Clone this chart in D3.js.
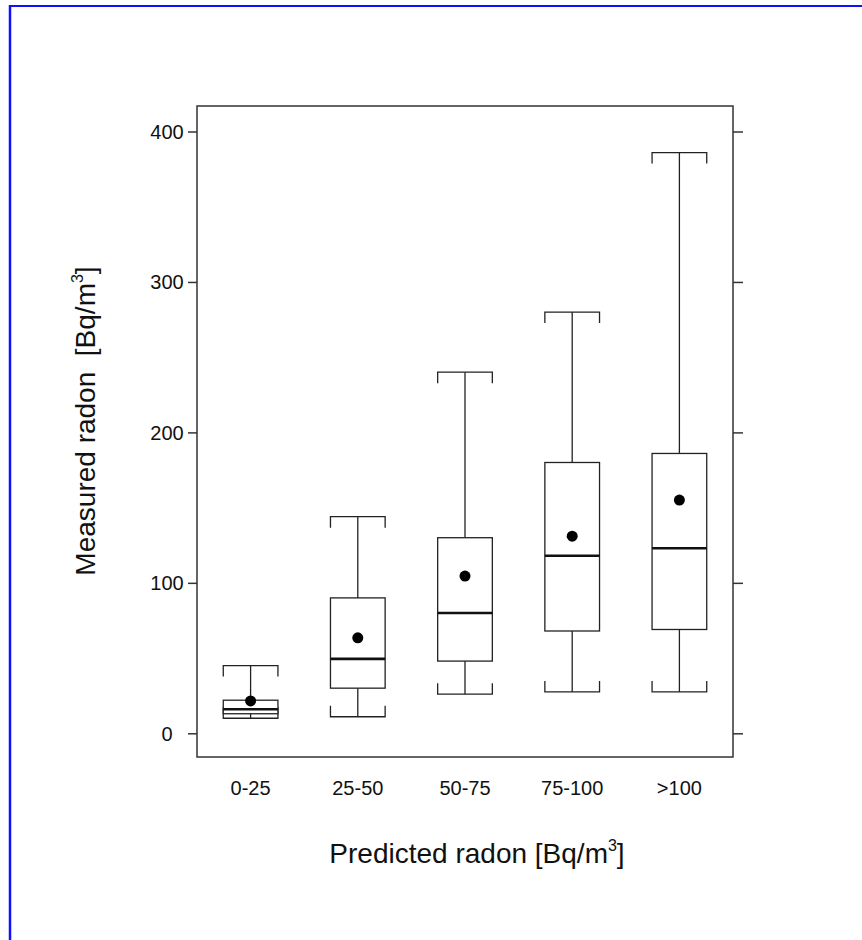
<!DOCTYPE html>
<html><head><meta charset="utf-8">
<script src="https://cdn.jsdelivr.net/npm/d3@7"></script>
<style>body{margin:0;background:#fff}svg{display:block}text{font-family:"Liberation Sans",Arial,sans-serif;fill:#111}</style>
</head><body>
<svg id="c" width="862" height="940"></svg>
<script>
const categories = ["0-25","25-50","50-75","75-100",">100"];
const whiskerLow  = [10, 11, 26, 27.5, 27.5];
const q1          = [13, 30, 48, 68, 69];
const median      = [16, 49.5, 80, 118, 123];
const q3          = [22, 90, 130, 180, 186];
const whiskerHigh = [45, 144, 240, 280, 386];
const means       = [21.5, 63.5, 104.5, 131, 155];
const yTicks      = [0, 100, 200, 300, 400];

const svg = d3.select("#c");
const L = 197, R = 733, T = 106, B = 757;
const x = d3.scaleBand().domain(categories).range([L, R]).paddingInner(0).paddingOuter(0);
const y = d3.scaleLinear().domain([0, 400]).range([733.3, 131.5]);
const bw = x.bandwidth() * 0.51;
const hook = 11;
const col = "#222";

// blue border (top & left)
svg.append("line").attr("x1",10).attr("x2",862).attr("y1",6).attr("y2",6).attr("stroke","#1010ff").attr("stroke-width",2.2);
svg.append("line").attr("x1",10).attr("x2",10).attr("y1",5).attr("y2",940).attr("stroke","#1010ff").attr("stroke-width",2.5);

// frame
svg.append("rect").attr("x",L).attr("y",T).attr("width",R-L).attr("height",B-T)
  .attr("fill","none").attr("stroke","#333").attr("stroke-width",1.5);

// axes ticks
const yl = d3.axisLeft(y).tickValues(yTicks).tickSize(9).tickFormat("");
const yr = d3.axisRight(y).tickValues(yTicks).tickSize(10).tickFormat("");
const gl = svg.append("g").attr("transform",`translate(${L},0)`).call(yl);
const gr = svg.append("g").attr("transform",`translate(${R},0)`).call(yr);
[gl,gr].forEach(g=>{g.select(".domain").remove();g.selectAll("line").attr("stroke","#333").attr("stroke-width",1.5);});

// y tick labels (centered)
svg.selectAll(".ylab").data(yTicks).join("text")
  .attr("x",167).attr("y",d=>y(d)).attr("dy","0.36em").attr("text-anchor","middle")
  .attr("font-size",20).text(d=>d);

// x labels
svg.selectAll(".xlab").data(categories).join("text")
  .attr("x",d=>x(d)+x.bandwidth()/2).attr("y",795).attr("text-anchor","middle")
  .attr("font-size",20).text(d=>d);

// titles
const xt = svg.append("text").attr("x",477).attr("y",863).attr("text-anchor","middle").attr("font-size",28);
xt.append("tspan").text("Predicted radon [Bq/m");
xt.append("tspan").attr("font-size",16).attr("dy",-12).text("3");
xt.append("tspan").attr("dy",12).text("]");
const yt = svg.append("text").attr("transform","translate(95,421) rotate(-90)").attr("text-anchor","middle")
  .attr("font-size",28).style("white-space","pre");
yt.append("tspan").text("Measured radon  [Bq/m");
yt.append("tspan").attr("font-size",16).attr("dy",-12).text("3");
yt.append("tspan").attr("dy",12).text("]");

// boxes
const data = categories.map((c,i)=>({c,lo:whiskerLow[i],q1:q1[i],md:median[i],q3:q3[i],hi:whiskerHigh[i],mn:means[i]}));
const g = svg.append("g").attr("fill","none").attr("stroke",col).attr("stroke-width",1.3);
data.forEach(d=>{
  const cx = x(d.c)+x.bandwidth()/2, x0 = cx-bw/2, x1 = cx+bw/2;
  g.append("line").attr("x1",cx).attr("x2",cx).attr("y1",y(d.q3)).attr("y2",y(d.hi));
  g.append("line").attr("x1",cx).attr("x2",cx).attr("y1",y(d.q1)).attr("y2",y(d.lo));
  g.append("path").attr("d",`M${x0},${y(d.hi)+hook}V${y(d.hi)}H${x1}V${y(d.hi)+hook}`);
  g.append("path").attr("d",`M${x0},${y(d.lo)-hook}V${y(d.lo)}H${x1}V${y(d.lo)-hook}`);
  g.append("rect").attr("x",x0).attr("y",y(d.q3)).attr("width",bw).attr("height",y(d.q1)-y(d.q3)).attr("fill","#fff");
  g.append("line").attr("x1",x0).attr("x2",x1).attr("y1",y(d.md)).attr("y2",y(d.md)).attr("stroke-width",2.6).attr("stroke","#111");
  svg.append("circle").attr("cx",cx).attr("cy",y(d.mn)).attr("r",5.5).attr("fill","#000");
});
</script>
</body></html>
